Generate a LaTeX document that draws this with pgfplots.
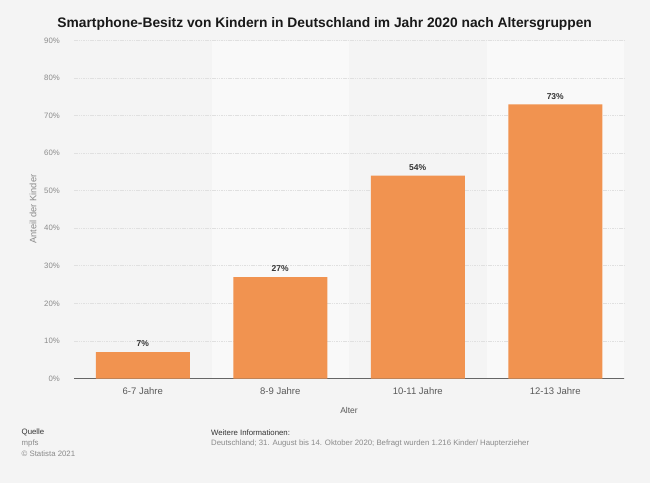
\documentclass[border=0pt]{standalone}
\usepackage{pgfplots}
\pgfplotsset{compat=1.18}
\usepackage{fontspec}
\setmainfont{Liberation Sans}
\definecolor{bg}{HTML}{F4F4F4}
\definecolor{band}{HTML}{F9F9F9}
\definecolor{barc}{HTML}{F19350}
\definecolor{gridc}{HTML}{E0E0E0}
\definecolor{tick}{HTML}{8A8A8A}
\definecolor{dark}{HTML}{333333}
\pagecolor{bg}
\begin{document}
\begin{tikzpicture}[x=1pt,y=1pt]
\path (0,0) rectangle (650,483);
\begin{axis}[
  at={(74pt,104.5pt)}, anchor=south west,
  scale only axis, width=550pt, height=338pt,
  set layers,
  xmin=-0.5, xmax=3.5, ymin=0, ymax=90,
  ybar, bar width=94pt,
  xtick=data, xticklabels={6-7 Jahre,8-9 Jahre,10-11 Jahre,12-13 Jahre},
  ytick={0,10,...,90},
  yticklabel={\pgfmathprintnumber{\tick}\%},
  /pgf/number format/assume math mode=true,
  major tick length=0pt,
  xtick style={draw=none}, ytick style={draw=none},
  xmajorgrids=false, ymajorgrids=true,
  grid style={draw=gridc, line width=0.8pt, dash pattern=on 1.5pt off 0.8pt},
  axis x line*=bottom, axis y line*=left,
  x axis line style={draw=black!60, line width=1.3pt},
  y axis line style={draw=none},
  yticklabel style={font=\fontsize{7.8}{9}\selectfont, text=tick, anchor=east, inner sep=0pt, xshift=-14pt},
  xticklabel style={font=\fontsize{9.5}{11}\selectfont, text=black!65, anchor=north, inner sep=0pt, yshift=-9pt},
  nodes near coords={\pgfmathprintnumber{\pgfplotspointmeta}\%},
  nodes near coords style={font=\bfseries\fontsize{8.5}{10}\selectfont, text=dark, anchor=south, inner sep=0pt, yshift=5pt},
]
\begin{pgfonlayer}{axis background}
\fill[band] (axis cs:0.5,0) rectangle (axis cs:1.5,90);
\fill[band] (axis cs:2.5,0) rectangle (axis cs:3.5,90);
\end{pgfonlayer}
\addplot[fill=barc, draw=none] coordinates {(0,7) (1,27) (2,54) (3,73)};
\end{axis}
\node[font=\bfseries\fontsize{13.8}{16}\selectfont, text=black!90, anchor=base] at (324.7,455) {Smartphone-Besitz von Kindern in Deutschland im Jahr 2020 nach Altersgruppen};
\node[font=\fontsize{9.3}{11}\selectfont, text=tick, rotate=90] at (33,274) {Anteil der Kinder};
\node[font=\fontsize{8.5}{10}\selectfont, text=black!65] at (349,73) {Alter};
\node[font=\fontsize{7.8}{9}\selectfont, text=dark, anchor=west, inner sep=0pt] at (21.5,50.5) {Quelle};
\node[font=\fontsize{7.8}{9}\selectfont, text=tick, anchor=west, inner sep=0pt] at (21.5,40) {mpfs};
\node[font=\fontsize{7.8}{9}\selectfont, text=tick, anchor=west, inner sep=0pt] at (21.5,29.5) {© Statista 2021};
\node[font=\fontsize{7.8}{9}\selectfont, text=dark, anchor=west, inner sep=0pt] at (211,50.5) {Weitere Informationen:};
\node[font=\fontsize{7.8}{9}\selectfont, text=tick, anchor=west, inner sep=0pt] at (211,39.5) {Deutschland; 31. August bis 14. Oktober 2020; Befragt wurden 1.216 Kinder/ Haupterzieher};
\end{tikzpicture}
\end{document}
